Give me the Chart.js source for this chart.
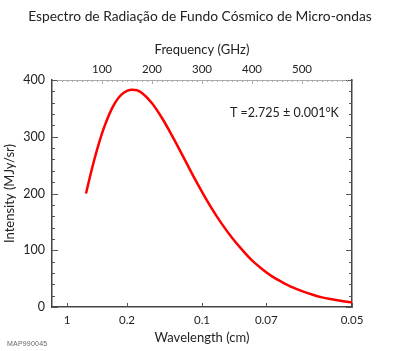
<!DOCTYPE html>
<html lang="pt">
<head>
<meta charset="UTF-8">
<title>Espectro de Radiação de Fundo Cósmico de Micro-ondas</title>
<script src="https://cdn.jsdelivr.net/npm/chart.js"></script>
<style>
    body { margin: 0; padding: 0; background: #fff; }
    #wrap { position: relative; width: 400px; height: 351px; }
    #tag { position: absolute; left: 7px; top: 340px; font: 7px "Liberation Sans", Arial, sans-serif; color: #666; letter-spacing: 0.2px; }
</style>
</head>
<body>
<div id="wrap">
    <canvas id="cmb" width="400" height="351"></canvas>
    <div id="tag">MAP990045</div>
</div>
<script>
// valores (frequência em GHz, intensidade em MJy/sr)
const freqGHz = [68, 80, 90, 100, 110, 120, 130, 140, 150, 160, 170, 180, 200, 220, 240, 260, 280, 300, 320, 340, 360, 380, 400, 420, 440, 460, 480, 500, 520, 540, 560, 580, 600];
const intensity = [200, 244, 277, 306, 330, 350, 365, 375, 381, 383, 382, 377, 359, 333, 302, 269, 235, 203, 173, 146, 122, 101, 82, 67, 54, 44, 35, 28, 22, 17, 13.5, 10.5, 8.2];

// eixo inferior: comprimento de onda (cm); eixo superior: frequência (GHz)
const wavelengthTicks = [1, 0.2, 0.1, 0.07, 0.05];
const freqTicks = [100, 200, 300, 400, 500];
const yTicks = [0, 100, 200, 300, 400];

const C_CM_GHZ = 30; // c em cm*GHz
const wavePos = wavelengthTicks.map(w => C_CM_GHZ / w);

const FONT = 'Lato, "DejaVu Sans", sans-serif';
const INK = '#222';

// marcas de escala voltadas para dentro
const innerTicks = {
    id: 'innerTicks',
    afterDatasetsDraw(chart) {
        const { ctx, chartArea: a, scales } = chart;
        const y = scales.y, x = scales.x, x2 = scales.x2;
        ctx.save();
        ctx.lineWidth = 1;
        ctx.strokeStyle = '#555';
        for (let v = 0; v <= 400; v += 20) {
            const py = Math.round(y.getPixelForValue(v)) + 0.5;
            const len = v % 100 === 0 ? 6 : 3;
            ctx.beginPath();
            ctx.moveTo(a.left, py); ctx.lineTo(a.left + len, py);
            ctx.moveTo(a.right, py); ctx.lineTo(a.right - len, py);
            ctx.stroke();
        }
        wavePos.forEach(f => {
            const px = Math.round(x.getPixelForValue(f)) + 0.5;
            ctx.beginPath();
            ctx.moveTo(px, a.bottom); ctx.lineTo(px, a.bottom - 4);
            ctx.stroke();
        });
        ctx.strokeStyle = '#aaa';
        for (let v = 10; v < 600; v += 10) {
            const px = Math.round(x2.getPixelForValue(v)) + 0.5;
            const len = v % 100 === 0 ? 4 : 2;
            ctx.beginPath();
            ctx.moveTo(px, a.top); ctx.lineTo(px, a.top + len);
            ctx.stroke();
        }
        // anotação da temperatura
        ctx.fillStyle = INK;
        ctx.font = '12.5px ' + FONT;
        ctx.textBaseline = 'middle';
        ctx.fillText('T =2.725 \u00b1 0.001\u00b0K', x2.getPixelForValue(356), y.getPixelForValue(342));
        ctx.restore();
    }
};

new Chart(document.getElementById('cmb'), {
    type: 'line',
    data: {
        datasets: [{
            data: freqGHz.map((f, i) => ({ x: f, y: intensity[i] })),
            borderColor: '#ff0000',
            borderWidth: 2.5,
            pointRadius: 0,
            cubicInterpolationMode: 'monotone',
            fill: false
        }]
    },
    options: {
        responsive: false,
        animation: false,
        devicePixelRatio: 1,
        layout: { padding: 0 },
        plugins: {
            legend: { display: false },
            tooltip: { enabled: false },
            title: {
                display: true,
                text: 'Espectro de Radiação de Fundo Cósmico de Micro-ondas',
                color: INK,
                font: { family: FONT, size: 13.8, weight: 'normal', lineHeight: 1.2 },
                padding: { top: 8, bottom: 0 }
            }
        },
        scales: {
            x: {
                type: 'linear', position: 'bottom', min: 0, max: 600,
                afterBuildTicks: s => { s.ticks = wavePos.map(v => ({ value: v })); },
                afterFit: s => { s.height = 44; },
                ticks: {
                    autoSkip: false, maxRotation: 0, padding: 6, color: INK,
                    font: { family: FONT, size: 11.5 },
                    callback: (v, i) => String(wavelengthTicks[i])
                },
                grid: { display: false, drawTicks: false },
                border: { color: '#444', width: 1.5 },
                title: { display: true, text: 'Wavelength (cm)', color: INK, font: { family: FONT, size: 13 }, padding: { top: 0, bottom: 5 } }
            },
            x2: {
                type: 'linear', position: 'top', min: 0, max: 600,
                afterBuildTicks: s => { s.ticks = freqTicks.map(v => ({ value: v })); },
                afterFit: s => { s.height = 80 - 24.56; },
                ticks: { autoSkip: false, maxRotation: 0, padding: 4, color: INK, font: { family: FONT, size: 11.5 } },
                grid: { display: false, drawTicks: false },
                border: { color: '#aaa', width: 1 },
                title: { display: true, text: 'Frequency (GHz)', color: INK, font: { family: FONT, size: 13 }, padding: { top: 17, bottom: 0 } }
            },
            y: {
                type: 'linear', position: 'left', min: 0, max: 400,
                afterBuildTicks: s => { s.ticks = yTicks.map(v => ({ value: v })); },
                afterFit: s => { s.width = 52; },
                ticks: { padding: 7, color: INK, font: { family: FONT, size: 12.5 } },
                grid: { display: false, drawTicks: false },
                border: { color: '#444', width: 1.5 },
                title: { display: true, text: 'Intensity (MJy/sr)', color: INK, font: { family: FONT, size: 13 }, padding: { top: 2, bottom: 0 } }
            },
            y2: {
                type: 'linear', position: 'right', min: 0, max: 400,
                afterFit: s => { s.width = 48; },
                ticks: { display: false },
                grid: { display: false, drawTicks: false },
                border: { color: '#444', width: 1.5 }
            }
        }
    },
    plugins: [innerTicks]
});
</script>
</body>
</html>
